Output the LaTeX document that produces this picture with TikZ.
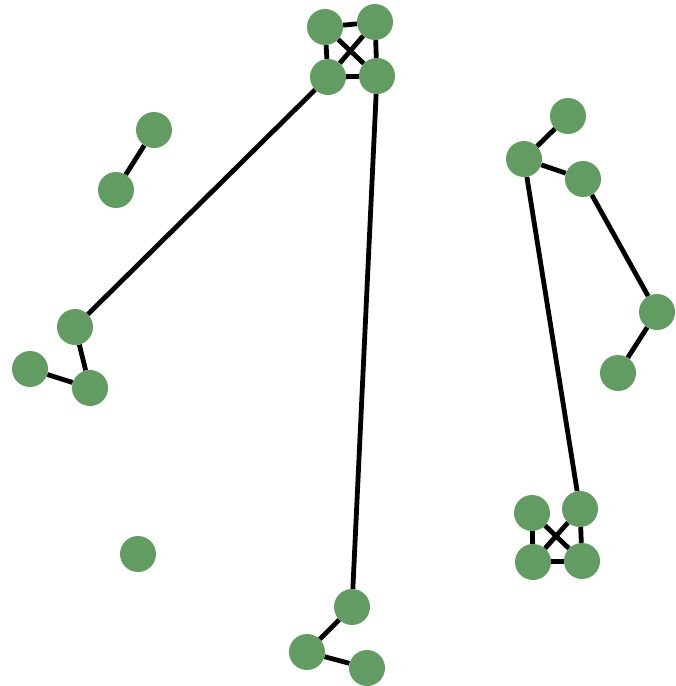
\documentclass[tikz,border=0pt]{standalone}
\usepackage{tikz}
\usetikzlibrary{backgrounds}
\definecolor{nodegreen}{HTML}{629C62}
\tikzset{
  % --- graph vertices and edges ---
  vtx/.style={circle, fill=nodegreen, draw=none, minimum size=36pt, inner sep=0pt},
  edge/.style={draw=black, line width=4.8pt},
}
\begin{document}
\begin{tikzpicture}[x=1pt, y=-1pt]
  \useasboundingbox (0,0) rectangle (676,686);
  % top cluster
  \node[vtx] (a1) at (325,27) {};
  \node[vtx] (a2) at (375,22) {};
  \node[vtx] (a3) at (328,77) {};
  \node[vtx] (a4) at (377,76) {};
  % left pair and triangle
  \node[vtx] (b1) at (154,130) {};
  \node[vtx] (b2) at (116,190) {};
  \node[vtx] (c1) at (75,327) {};
  \node[vtx] (c2) at (30,369) {};
  \node[vtx] (c3) at (90,388) {};
  \node[vtx] (lone) at (138,554) {};
  % bottom group
  \node[vtx] (d1) at (352,607) {};
  \node[vtx] (d2) at (307,652) {};
  \node[vtx] (d3) at (367,668) {};
  % right chain
  \node[vtx] (e1) at (568,116) {};
  \node[vtx] (e2) at (524,159) {};
  \node[vtx] (e3) at (583,179) {};
  \node[vtx] (e4) at (657,312) {};
  \node[vtx] (e5) at (618,373) {};
  % bottom right cluster
  \node[vtx] (f1) at (532,513) {};
  \node[vtx] (f2) at (580,509) {};
  \node[vtx] (f3) at (533,562) {};
  \node[vtx] (f4) at (582,561) {};

  \begin{scope}[on background layer]
    \draw[edge] (a1) -- (a2) (a1) -- (a3) (a2) -- (a4) (a3) -- (a4)
                (a1) -- (a4) (a2) -- (a3);
    \draw[edge] (b1) -- (b2);
    \draw[edge] (c1) -- (c3) (c2) -- (c3) (c1) -- (a3);
    \draw[edge] (d1) -- (d2) (d2) -- (d3) (d1) -- (a4);
    \draw[edge] (e1) -- (e2) (e2) -- (e3) (e3) -- (e4) (e4) -- (e5);
    \draw[edge] (e2) -- (f2);
    \draw[edge] (f1) -- (f3) (f2) -- (f4) (f3) -- (f4)
                (f1) -- (f4) (f2) -- (f3);
  \end{scope}
\end{tikzpicture}
\end{document}
